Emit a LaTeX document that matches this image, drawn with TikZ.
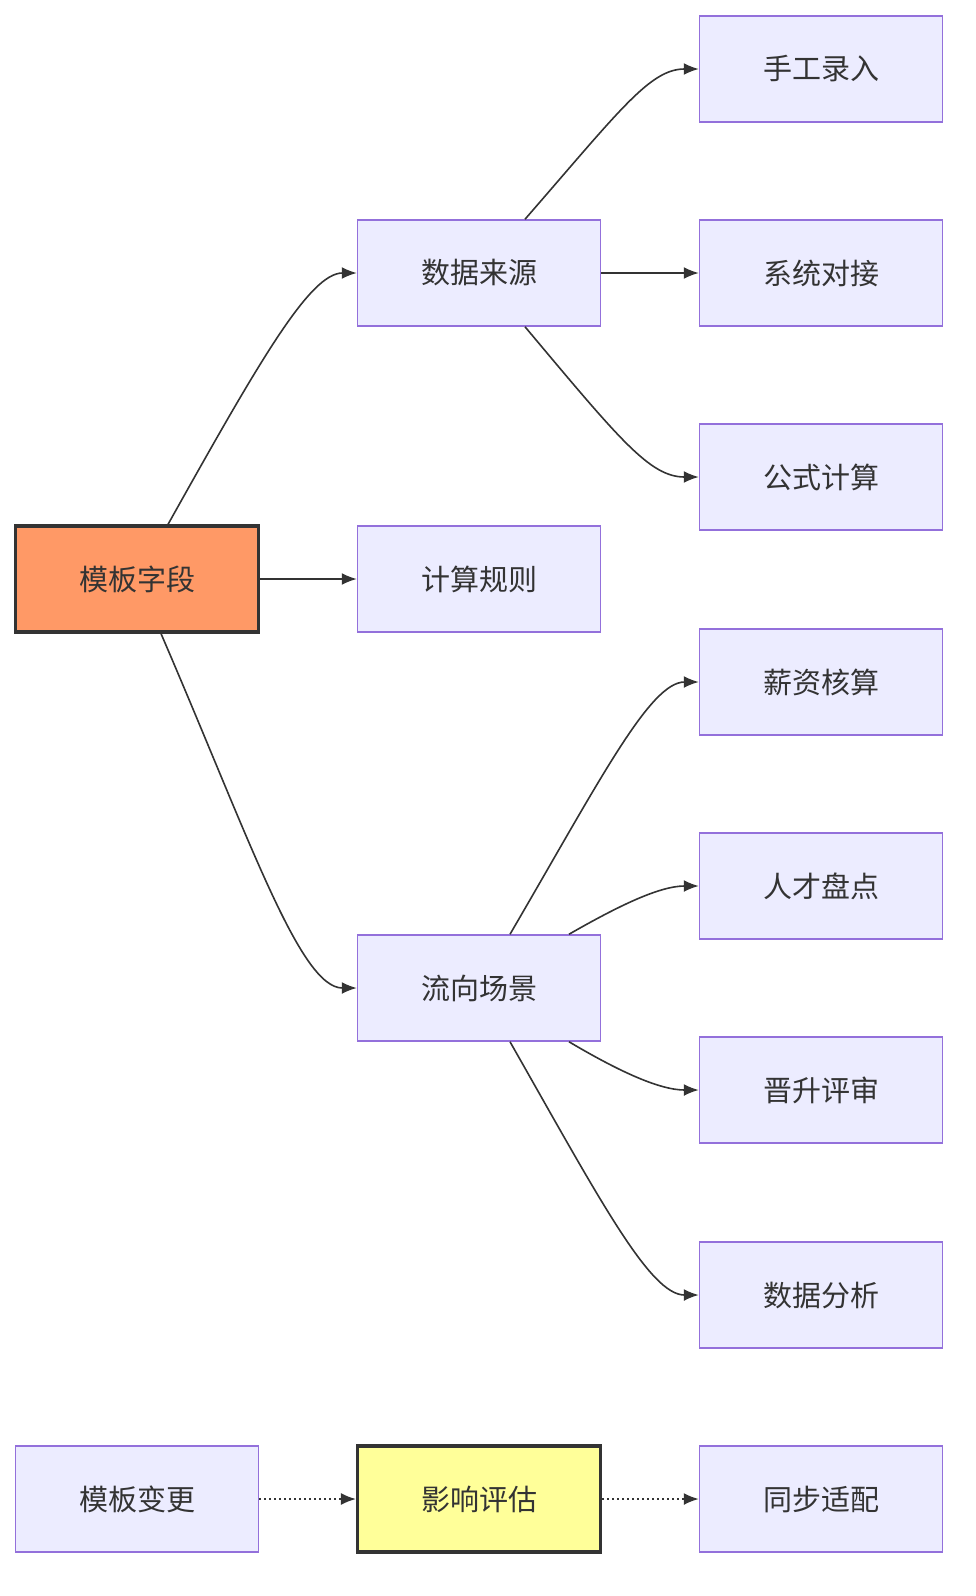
\documentclass[tikz,border=0pt]{standalone}
\usepackage{fontspec}
\setmainfont{Noto Sans CJK SC}
\usetikzlibrary{arrows.meta,calc}
\definecolor{nfill}{HTML}{ECECFF}
\definecolor{nbord}{HTML}{9370DB}
\definecolor{tx}{HTML}{333333}
\definecolor{orng}{HTML}{FF9966}
\definecolor{ylw}{HTML}{FFFF99}
\tikzset{
 box/.style={draw=nbord,fill=nfill,line width=1.5pt,minimum width=243pt,minimum height=106pt,inner sep=0pt,text=tx,font=\fontsize{29pt}{34pt}\selectfont},
 hot/.style={box,draw=tx,line width=3.2pt},
 arr/.style={draw=tx,line width=1.6pt,-{Latex[length=15pt,width=12pt]}},
 dot/.style={arr,dash pattern=on 2pt off 3pt}
}
\begin{document}
\begin{tikzpicture}[x=1pt,y=-1pt]
\useasboundingbox (0,0) rectangle (976,1596);
\node[hot,fill=orng] (mb) at (137,579) {模板字段};
\node[box] (ds) at (479,273) {数据来源};
\node[box] (js) at (479,579) {计算规则};
\node[box] (lx) at (479,988) {流向场景};
\node[box] (sg) at (821,69) {手工录入};
\node[box] (xt) at (821,273) {系统对接};
\node[box] (gs) at (821,477) {公式计算};
\node[box] (xz) at (821,682) {薪资核算};
\node[box] (rc) at (821,886) {人才盘点};
\node[box] (js2) at (821,1090) {晋升评审};
\node[box] (sj) at (821,1295) {数据分析};
\node[box] (bg) at (137,1499) {模板变更};
\node[hot,fill=ylw] (yx) at (479,1499) {影响评估};
\node[box] (tb) at (821,1499) {同步适配};
\draw[arr] ($(mb.north)+(31,0)$) .. controls (260,360) and (310,273) .. (ds.west);
\draw[arr] (mb.east) -- (js.west);
\draw[arr] ($(mb.south)+(24,0)$) .. controls (250,840) and (300,988) .. (lx.west);
\draw[arr] ($(ds.north)+(46,0)$) .. controls (620,110) and (650,69) .. (sg.west);
\draw[arr] (ds.east) -- (xt.west);
\draw[arr] ($(ds.south)+(46,0)$) .. controls (620,440) and (650,477) .. (gs.west);
\draw[arr] ($(lx.north)+(31,0)$) .. controls (600,780) and (650,682) .. (xz.west);
\draw[arr] ($(lx.north)+(90,0)$) .. controls (620,905) and (660,886) .. (rc.west);
\draw[arr] ($(lx.south)+(90,0)$) .. controls (620,1072) and (660,1090) .. (js2.west);
\draw[arr] ($(lx.south)+(31,0)$) .. controls (600,1200) and (650,1295) .. (sj.west);
\draw[dot] (bg.east) -- (yx.west);
\draw[dot] (yx.east) -- (tb.west);
\end{tikzpicture}
\end{document}
